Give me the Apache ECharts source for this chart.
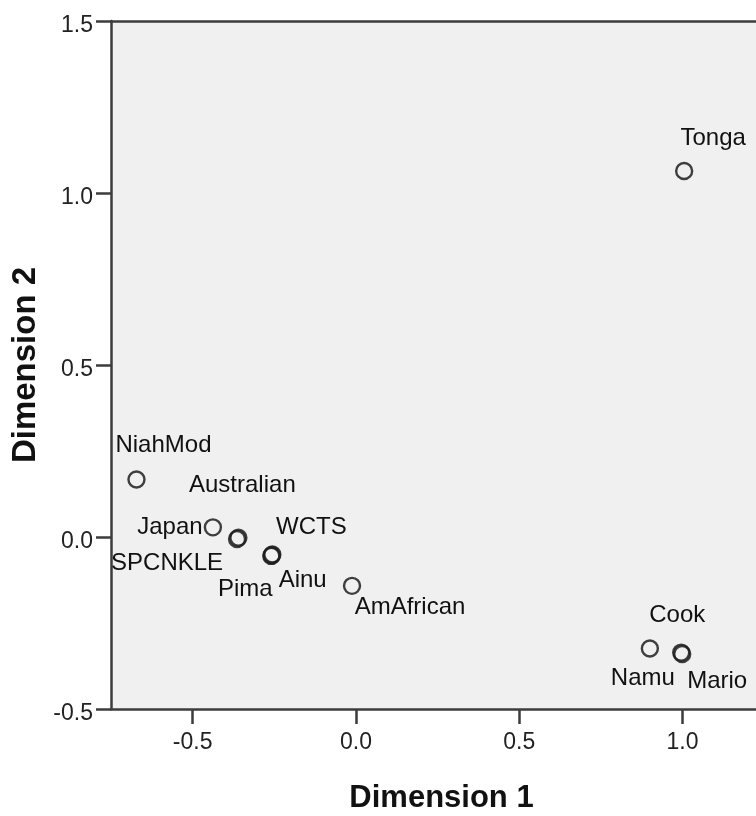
<!DOCTYPE html>
<html lang="en" style="height: 100%">
<head>
    <meta charset="UTF-8">
    <title>Dimension plot</title>
    <script type="text/javascript" src="https://cdn.jsdelivr.net/npm/echarts@6/dist/echarts.min.js"></script>
</head>
<body style="height: 100%;margin: 0;background: #fff">

<div id="contar" style="width: 756px;height: 816px"></div>

<script type="text/javascript">
    // 各点名称与坐标
    var pointNames = ['Tonga', 'NiahMod', 'Japan', 'Australian', 'SPCNKLE', 'WCTS', 'Pima', 'Ainu', 'AmAfrican', 'Cook', 'Namu', 'Mario'];
    var dim1 = [1.005, -0.672, -0.438, -0.360, -0.364, -0.256, -0.259, -0.258, -0.012, 0.996, 0.900, 0.999];
    var dim2 = [1.064, 0.167, 0.028, -0.002, -0.006, -0.051, -0.055, -0.053, -0.142, -0.336, -0.324, -0.340];
    var xTicks = [-0.5, 0.0, 0.5, 1.0];
    var yTicks = [-0.5, 0.0, 0.5, 1.0, 1.5];

    // label offsets in pixels (style only)
    var labelOffsets = [[29, -33], [27, -34], [-43, 0], [4, -52], [-70, 24], [39, -27],
        [-26, 33], [31, 25], [58, 22], [-4, -37], [-7, 30], [35, 27]];

    var points = [];
    for (var i = 0; i < pointNames.length; i++) {
        points.push({
            name: pointNames[i],
            value: [dim1[i], dim2[i]],
            label: {offset: labelOffsets[i]}
        });
    }

    var font = 'Liberation Sans, Arial, sans-serif';
    var lineCol = '#3c3c3c';
    var myChart = echarts.init(document.getElementById('contar'));
    var option = {
        animation: false,
        grid: {
            left: 111,
            right: 0,
            top: 21,
            bottom: 107,
            outerBoundsMode: 'none',
            show: true,
            backgroundColor: '#f0f0f0',
            borderWidth: 0
        },
        xAxis: [
            {
                type: 'value',
                min: -0.75,
                max: 1.225,
                name: 'Dimension 1',
                nameLocation: 'middle',
                nameGap: 74,
                nameTextStyle: {fontFamily: font, fontSize: 31, fontWeight: 'bold', color: '#111', padding: [0, 0, 0, 16]},
                axisLine: {show: true, onZero: false, lineStyle: {color: lineCol, width: 2.5}},
                axisTick: {show: true, length: 15, customValues: xTicks, lineStyle: {color: lineCol, width: 2.5}},
                axisLabel: {
                    customValues: xTicks, margin: 22,
                    fontFamily: font, fontSize: 23, color: '#222',
                    formatter: function (v) { return v.toFixed(1); }
                },
                splitLine: {show: false}
            },
            {
                // top frame line
                type: 'value',
                position: 'top',
                min: -0.75,
                max: 1.225,
                axisLine: {show: true, onZero: false, lineStyle: {color: lineCol, width: 2.5}},
                axisTick: {show: false},
                axisLabel: {show: false},
                splitLine: {show: false}
            }
        ],
        yAxis: {
            type: 'value',
            min: -0.5,
            max: 1.5,
            name: 'Dimension 2',
            nameLocation: 'middle',
            nameGap: 68,
            nameTextStyle: {fontFamily: font, fontSize: 33, fontWeight: 'bold', color: '#111'},
            axisLine: {show: true, onZero: false, lineStyle: {color: lineCol, width: 2.5}},
            axisTick: {show: true, length: 15, customValues: yTicks, lineStyle: {color: lineCol, width: 2.5}},
            axisLabel: {
                customValues: yTicks, margin: 18,
                fontFamily: font, fontSize: 23, color: '#222',
                verticalAlign: 'top',
                lineHeight: 9,
                formatter: function (v) { return v.toFixed(1); }
            },
            splitLine: {show: false}
        },
        series: [
            {
                type: 'scatter',
                xAxisIndex: 0,
                symbol: 'circle',
                symbolSize: 16,
                itemStyle: {color: 'rgba(0,0,0,0)', borderColor: 'rgba(30,30,30,0.85)', borderWidth: 2.4, opacity: 1},
                label: {
                    show: true,
                    position: 'inside',
                    formatter: '{b}',
                    fontFamily: font,
                    fontSize: 24,
                    color: '#111',
                    opacity: 1
                },
                emphasis: {disabled: true},
                data: points
            }
        ]
    };
    myChart.setOption(option);
</script>

</body>
</html>
